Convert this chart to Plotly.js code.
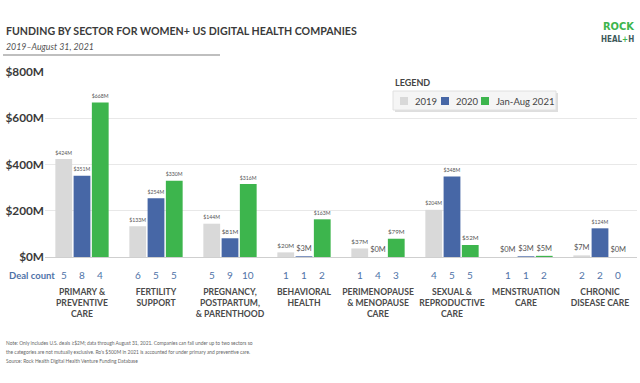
<!DOCTYPE html>
<html><head><meta charset="utf-8">
<script src="https://cdn.plot.ly/plotly-3.0.1.min.js"></script>
<style>html,body{margin:0;padding:0;background:#fff;}#chart{width:640px;height:383px;}</style>
</head><body><div id="chart"></div>
<script>
const categories = ["PRIMARY &<br>PREVENTIVE<br>CARE", "FERTILITY<br>SUPPORT", "PREGNANCY,<br>POSTPARTUM,<br>& PARENTHOOD", "BEHAVIORAL<br>HEALTH", "PERIMENOPAUSE<br>& MENOPAUSE<br>CARE", "SEXUAL &<br>REPRODUCTIVE<br>CARE", "MENSTRUATION<br>CARE", "CHRONIC<br>DISEASE CARE"];
const seriesNames = ["2019", "2020", "Jan-Aug 2021"];
const v2019 = [424, 133, 144, 20, 37, 204, 0, 7];
const v2020 = [351, 254, 81, 3, 0, 348, 3, 124];
const v2021 = [668, 330, 316, 163, 79, 52, 5, 0];
const deals2019 = [5, 6, 5, 1, 1, 4, 1, 2];
const deals2020 = [8, 5, 9, 1, 4, 5, 1, 2];
const deals2021 = [4, 5, 10, 2, 3, 5, 2, 0];
const yTickVals = [0, 200, 400, 600, 800];
const yTickText = ["$0M", "$200M", "$400M", "$600M", "$800M"];

const colors = ["#d9d9d9", "#4767a6", "#3db54d"];
const W = 640, H = 383;
const M = {l: 45, r: 3, t: 72, b: 126};
const pw = W - M.l - M.r, ph = H - M.t - M.b;
const px = x => (x - M.l) / pw;
const py = y => (H - M.b - y) / ph;
const idx = categories.map((c, i) => i);
const bargap = 0.26;
const barW = (1 - bargap) / 3;

const traces = [v2019, v2020, v2021].map((vals, k) => ({
  type: 'bar', x: idx, y: vals, name: seriesNames[k], showlegend: false,
  marker: {color: colors[k], line: {width: 0}},
  text: vals.map(v => '$' + v + 'M'), textposition: 'outside',
  textfont: {family: 'Lato', size: 7.5, color: '#555'},
  cliponaxis: false, hoverinfo: 'skip'
}));

const annotations = [];
function note(x, y, text, font, xanchor) {
  annotations.push({xref: 'paper', yref: 'paper', x: px(x), y: py(y), xanchor: xanchor || 'left', yanchor: 'middle',
    text: text, showarrow: false, font: font});
}
[deals2019, deals2020, deals2021].forEach((d, k) => {
  d.forEach((n, i) => annotations.push({
    xref: 'x', yref: 'paper', x: i + (k - 1) * barW, y: py(275), xanchor: 'center', yanchor: 'middle',
    text: String(n), showarrow: false,
    font: {family: 'Lato', size: 10, color: '#4f73a8'}
  }));
});
note(7, 275, '<b>Deal count</b>', {family: 'Lato', size: 9.5, color: '#4f73a8'});
note(4, 31, '<b>FUNDING BY SECTOR FOR WOMEN+ US DIGITAL HEALTH COMPANIES</b>', {family: 'Lato', size: 10.6, color: '#3a3a3a'});
note(4, 46, '<i>2019–August 31, 2021</i>', {family: 'Lato', size: 8.8, color: '#555'});
note(636, 26.5, '<b>ROCK</b>', {family: 'DejaVu Sans Condensed, Roboto', size: 11, color: '#3db54d'}, 'right');
note(636, 39, '<b>HEAL<span style="color:#3db54d">+</span>H</b>', {family: 'DejaVu Sans Condensed, Roboto', size: 8, color: '#3f5a5a'}, 'right');
note(393, 83, '<b>LEGEND</b>', {family: 'Lato', size: 9, color: '#444'});
// custom legend
const legendSq = [400, 441, 481];
const legendTx = [413, 454, 494];
seriesNames.forEach((n, k) => note(legendTx[k], 101.5, n, {family: 'Lato', size: 9.5, color: '#444'}));
const notes = [
  'Note: Only includes U.S. deals ≥$2M; data through August 31, 2021. Companies can fall under up to two sectors so',
  'the categories are not mutually exclusive. Ro\'s $500M in 2021 is accounted for under primary and preventive care.',
  'Source: Rock Health Digital Health Venture Funding Database'];
notes.forEach((t, i) => note(4, 343 + i * 9, t, {family: 'Lato', size: 4.9, color: '#666'}));

const shapes = [
  {type: 'line', xref: 'paper', yref: 'paper', x0: px(3), x1: px(220), y0: py(55), y1: py(55), line: {color: '#aaa', width: 1.5}},
  {type: 'rect', xref: 'paper', yref: 'paper', x0: px(395), x1: px(558), y0: py(93), y1: py(112), fillcolor: '#dedede', line: {width: 0}},
  {type: 'rect', xref: 'paper', yref: 'paper', x0: px(393), x1: px(556), y0: py(91), y1: py(110), fillcolor: '#f5f5f5', line: {color: '#e0e0e0', width: 1}}
];
legendSq.forEach((x, k) => shapes.push({type: 'rect', xref: 'paper', yref: 'paper', x0: px(x), x1: px(x + 8), y0: py(97), y1: py(105),
  fillcolor: colors[k], line: {width: 0}}));

const boldLines = s => s.split('<br>').map(l => '<b>' + l + '</b>').join('<br>');

const layout = {
  width: W, height: H, margin: M, paper_bgcolor: '#fff', plot_bgcolor: '#fff',
  barmode: 'group', bargap: bargap, bargroupgap: 0.08,
  showlegend: false,
  xaxis: {type: 'linear', range: [-0.5, 7.5], tickvals: idx, ticktext: categories.map(boldLines), tickangle: 0,
    tickfont: {family: 'Lato', size: 8.6, color: '#4a4a4a'}, ticks: '',
    ticklabelstandoff: 28, showgrid: false, zeroline: false, showline: false, fixedrange: true},
  yaxis: {range: [0, 800], tickvals: yTickVals, ticktext: yTickText.map(boldLines),
    tickfont: {family: 'Lato', size: 11.8, color: '#3a3a3a'},
    gridcolor: '#e8e8e8', gridwidth: 1, zeroline: true, zerolinecolor: '#cfcfcf', zerolinewidth: 1,
    showline: false, ticks: '', ticklabelstandoff: 0, fixedrange: true},
  annotations: annotations, shapes: shapes,
  font: {family: 'Lato'}
};
Plotly.newPlot('chart', traces, layout, {displayModeBar: false, staticPlot: true});
</script></body></html>
